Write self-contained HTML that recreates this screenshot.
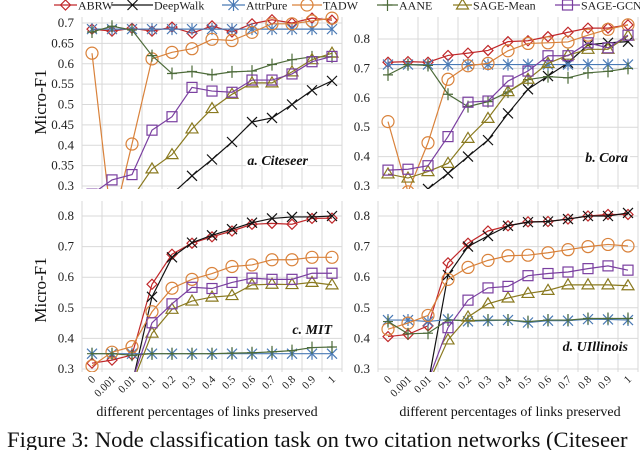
<!DOCTYPE html>
<html><head><meta charset="utf-8"><style>
body{margin:0;background:#fff;width:640px;height:450px;overflow:hidden;font-family:"Liberation Serif",serif}
svg{display:block}
</style></head><body>
<svg id="chart" width="640" height="450" viewBox="0 0 640 450" font-family="Liberation Serif, serif">
<text x="7" y="447" font-size="22.6" fill="#111">Figure 3: Node classification task on two citation networks (Citeseer</text>
<text x="207" y="416" font-size="14" text-anchor="middle" fill="#111">different percentages of links preserved</text>
<text x="510" y="416" font-size="14" text-anchor="middle" fill="#111">different percentages of links preserved</text>
<text transform="translate(46,102) rotate(-90)" font-size="17" text-anchor="middle" fill="#111">Micro-F1</text>
<text transform="translate(46,290) rotate(-90)" font-size="17" text-anchor="middle" fill="#111">Micro-F1</text>
</svg>
<script>
const categories=["0","0.001","0.01","0.1","0.2","0.3","0.4","0.5","0.6","0.7","0.8","0.9","1"];
const seriesNames=["ABRW","DeepWalk","AttrPure","TADW","AANE","SAGE-Mean","SAGE-GCN"];
const citeseerABRW=[0.685,0.68,0.687,0.68,0.69,0.675,0.693,0.678,0.698,0.708,0.7,0.712,0.707];
const citeseerDeepWalk=[0.15,0.17,0.2,0.24,0.28,0.325,0.365,0.408,0.457,0.467,0.5,0.535,0.558];
const citeseerAttrPure=[0.685,0.685,0.685,0.685,0.685,0.685,0.685,0.685,0.685,0.685,0.685,0.685,0.685];
const citeseerTADW=[0.626,0.2,0.403,0.612,0.628,0.637,0.66,0.657,0.677,0.698,0.698,0.705,0.712];
const citeseerAANE=[0.678,0.692,0.683,0.62,0.576,0.581,0.573,0.58,0.582,0.598,0.61,0.617,0.617];
const citeseerSAGEMean=[0.2,0.22,0.27,0.342,0.377,0.44,0.49,0.525,0.553,0.553,0.58,0.61,0.626];
const citeseerSAGEGCN=[0.28,0.315,0.328,0.437,0.47,0.542,0.533,0.53,0.56,0.56,0.575,0.605,0.618];
const coraABRW=[0.721,0.723,0.721,0.744,0.752,0.761,0.791,0.794,0.808,0.823,0.837,0.837,0.848];
const coraDeepWalk=[0.22,0.25,0.29,0.343,0.4,0.456,0.547,0.629,0.674,0.719,0.78,0.787,0.791];
const coraAttrPure=[0.713,0.713,0.713,0.713,0.713,0.713,0.713,0.713,0.713,0.713,0.713,0.713,0.713];
const coraTADW=[0.519,0.28,0.447,0.663,0.709,0.717,0.76,0.785,0.787,0.79,0.813,0.833,0.848];
const coraAANE=[0.678,0.713,0.71,0.612,0.57,0.587,0.62,0.662,0.672,0.668,0.685,0.69,0.7];
const coraSAGEMean=[0.341,0.327,0.349,0.377,0.462,0.53,0.621,0.663,0.717,0.745,0.765,0.765,0.81];
const coraSAGEGCN=[0.354,0.357,0.369,0.468,0.585,0.589,0.657,0.691,0.743,0.743,0.787,0.77,0.813];
const mitABRW=[0.319,0.329,0.346,0.577,0.675,0.711,0.732,0.751,0.773,0.776,0.773,0.792,0.793];
const mitDeepWalk=[0.2,0.2,0.25,0.536,0.665,0.713,0.737,0.757,0.778,0.792,0.797,0.797,0.8];
const mitAttrPure=[0.35,0.35,0.35,0.35,0.35,0.35,0.35,0.35,0.35,0.35,0.35,0.35,0.35];
const mitTADW=[0.31,0.355,0.373,0.487,0.564,0.593,0.612,0.635,0.64,0.657,0.657,0.665,0.665];
const mitAANE=[0.35,0.35,0.345,0.35,0.35,0.35,0.35,0.352,0.353,0.356,0.36,0.37,0.372];
const mitSAGEMean=[0.2,0.2,0.25,0.417,0.495,0.522,0.535,0.54,0.575,0.577,0.576,0.583,0.575];
const mitSAGEGCN=[0.2,0.2,0.26,0.451,0.513,0.567,0.563,0.583,0.597,0.593,0.593,0.613,0.613];
const uiABRW=[0.406,0.413,0.441,0.647,0.711,0.751,0.768,0.781,0.782,0.79,0.8,0.805,0.805];
const uiDeepWalk=[0.2,0.2,0.25,0.607,0.7,0.735,0.768,0.78,0.782,0.79,0.8,0.8,0.81];
const uiAttrPure=[0.46,0.46,0.455,0.462,0.456,0.458,0.46,0.452,0.458,0.458,0.463,0.462,0.46];
const uiTADW=[0.43,0.45,0.475,0.593,0.632,0.655,0.67,0.672,0.68,0.69,0.7,0.707,0.702];
const uiAANE=[0.455,0.415,0.417,0.46,0.458,0.46,0.46,0.455,0.46,0.46,0.465,0.465,0.465];
const uiSAGEMean=[0.2,0.2,0.25,0.395,0.47,0.513,0.532,0.547,0.557,0.575,0.575,0.575,0.572];
const uiSAGEGCN=[0.2,0.2,0.26,0.435,0.525,0.565,0.57,0.605,0.612,0.617,0.628,0.637,0.623];
const ticksA=["0.3","0.35","0.4","0.45","0.5","0.55","0.6","0.65","0.7"];
const ticksB=["0.3","0.4","0.5","0.6","0.7","0.8"];
const panelLabels=["a. Citeseer","b. Cora","c. MIT","d. UIllinois"];

const NS="http://www.w3.org/2000/svg";
const svg=document.getElementById('chart');
const colors=["#c0282a","#111111","#4a7ab5","#d9823b","#4d6b3a","#8a7a20","#7a3fa0"];
const shapes=["diamond","x","star","circle","plus","tri","square"];
function mk(tag,attrs,parent){const e=document.createElementNS(NS,tag);for(const k in attrs)e.setAttribute(k,attrs[k]);(parent||svg).appendChild(e);return e;}
function marker(g,shape,x,y,c){
  let e;
  if(shape==="diamond"){e=mk('path',{d:`M${x} ${y-5}L${x+5} ${y}L${x} ${y+5}L${x-5} ${y}Z`,fill:'none',stroke:c,'stroke-width':1.2},g);}
  else if(shape==="x"){e=mk('path',{d:`M${x-5} ${y-5}L${x+5} ${y+5}M${x-5} ${y+5}L${x+5} ${y-5}`,stroke:c,'stroke-width':1.2},g);}
  else if(shape==="star"){e=mk('path',{d:`M${x-5} ${y-5}L${x+5} ${y+5}M${x-5} ${y+5}L${x+5} ${y-5}M${x} ${y-6}L${x} ${y+6}`,stroke:c,'stroke-width':1.2},g);}
  else if(shape==="circle"){e=mk('circle',{cx:x,cy:y,r:6,fill:'none',stroke:c,'stroke-width':1.2},g);}
  else if(shape==="plus"){e=mk('path',{d:`M${x-5} ${y}L${x+5} ${y}M${x} ${y-6}L${x} ${y+6}`,stroke:c,'stroke-width':1.2},g);}
  else if(shape==="tri"){e=mk('path',{d:`M${x} ${y-6}L${x+6} ${y+4}L${x-6} ${y+4}Z`,fill:'none',stroke:c,'stroke-width':1.2},g);}
  else {e=mk('rect',{x:x-5,y:y-5,width:10,height:10,fill:'none',stroke:c,'stroke-width':1.2},g);}
  
  
}
const panels=[
 {id:'a',x0:82,x1:342,top:17,bot:189,v0:0.3,v1:0.7,yTop:23,yBot:186,ticks:ticksA,label:panelLabels[0],lx:308,ly:165,xt:false,
  data:[citeseerABRW,citeseerDeepWalk,citeseerAttrPure,citeseerTADW,citeseerAANE,citeseerSAGEMean,citeseerSAGEGCN]},
 {id:'b',x0:378,x1:638,top:17,bot:189,v0:0.3,v1:0.8,yTop:39,yBot:186,ticks:ticksB,label:panelLabels[1],lx:628,ly:162,xt:false,
  data:[coraABRW,coraDeepWalk,coraAttrPure,coraTADW,coraAANE,coraSAGEMean,coraSAGEGCN]},
 {id:'c',x0:82,x1:342,top:201,bot:372,v0:0.3,v1:0.8,yTop:216,yBot:369,ticks:ticksB,label:panelLabels[2],lx:332,ly:334,xt:true,
  data:[mitABRW,mitDeepWalk,mitAttrPure,mitTADW,mitAANE,mitSAGEMean,mitSAGEGCN]},
 {id:'d',x0:378,x1:638,top:201,bot:372,v0:0.3,v1:0.8,yTop:216,yBot:369,ticks:ticksB,label:panelLabels[3],lx:628,ly:351,xt:true,
  data:[uiABRW,uiDeepWalk,uiAttrPure,uiTADW,uiAANE,uiSAGEMean,uiSAGEGCN]}
];
panels.forEach(p=>{
  const g=mk('g',{});
  
  
  const step=(p.x1-p.x0)/categories.length;
  const xs=i=>p.x0+step*(i+0.5);
  const ys=v=>p.yBot-(v-p.v0)/(p.v1-p.v0)*(p.yBot-p.yTop);
  for(let i=0;i<=categories.length;i++){const l=mk('line',{x1:p.x0+step*i,x2:p.x0+step*i,y1:p.top,y2:p.bot,stroke:'#d9d9d9','stroke-width':1},g);
    }
  const tk=p.ticks.map(Number); const d=tk[1]-tk[0];
  for(let v=tk[0];v<=p.v1+d+1e-6;v+=d){const y=ys(v); if(y<p.top-1)break; const l=mk('line',{x1:p.x0,x2:p.x1,y1:y,y2:y,stroke:'#d9d9d9','stroke-width':1},g);
    }
  p.ticks.forEach(t=>{const e=mk('text',{x:p.x0-8,y:ys(+t)+4,'font-size':13,'text-anchor':'end',fill:'#222'},g);e.textContent=t;
    });
  if(p.xt){categories.forEach((c,i)=>{const e=mk('text',{transform:`translate(${xs(i)+4},${p.bot+8}) rotate(-45)`,'font-size':11,'text-anchor':'end',fill:'#222'},g);e.textContent=c;
    });}
  const cp=mk('clipPath',{id:'clip'+p.id},g);
  mk('rect',{x:p.x0,y:p.top-8,width:p.x1-p.x0+6,height:p.bot-p.top+8},cp);
  const sg=mk('g',{'clip-path':`url(#clip${p.id})`},g);
  
  
  p.data.forEach((arr,si)=>{
    const pts=arr.map((v,i)=>xs(i)+','+ys(v)).join(' ');
    const pl=mk('polyline',{points:pts,fill:'none',stroke:colors[si],'stroke-width':1.2},sg);
    
    
    arr.forEach((v,i)=>marker(sg,shapes[si],xs(i),ys(v),colors[si]));
  });
  const lt=mk('text',{x:p.lx,y:p.ly,'font-size':14,'font-weight':'bold','font-style':'italic','text-anchor':'end',fill:'#111',stroke:'#fff','stroke-width':5,'paint-order':'stroke'},g);
  lt.textContent=p.label;
  
  
});
const legX=[54,112,222,292,377,453,555];
const legW=[23,41,23,30,21,19,25];
const lg=mk('g',{});


seriesNames.forEach((n,i)=>{
  const l=mk('line',{x1:legX[i],x2:legX[i]+legW[i],y1:5,y2:5,stroke:colors[i],'stroke-width':1.2},lg);
  
  
  marker(lg,shapes[i],legX[i]+legW[i]/2,5,colors[i]);
  const t=mk('text',{x:legX[i]+legW[i]+1,y:9.5,'font-size':12,fill:'#222'},lg);
  t.textContent=n;
  
  
});
</script>
</body></html>
